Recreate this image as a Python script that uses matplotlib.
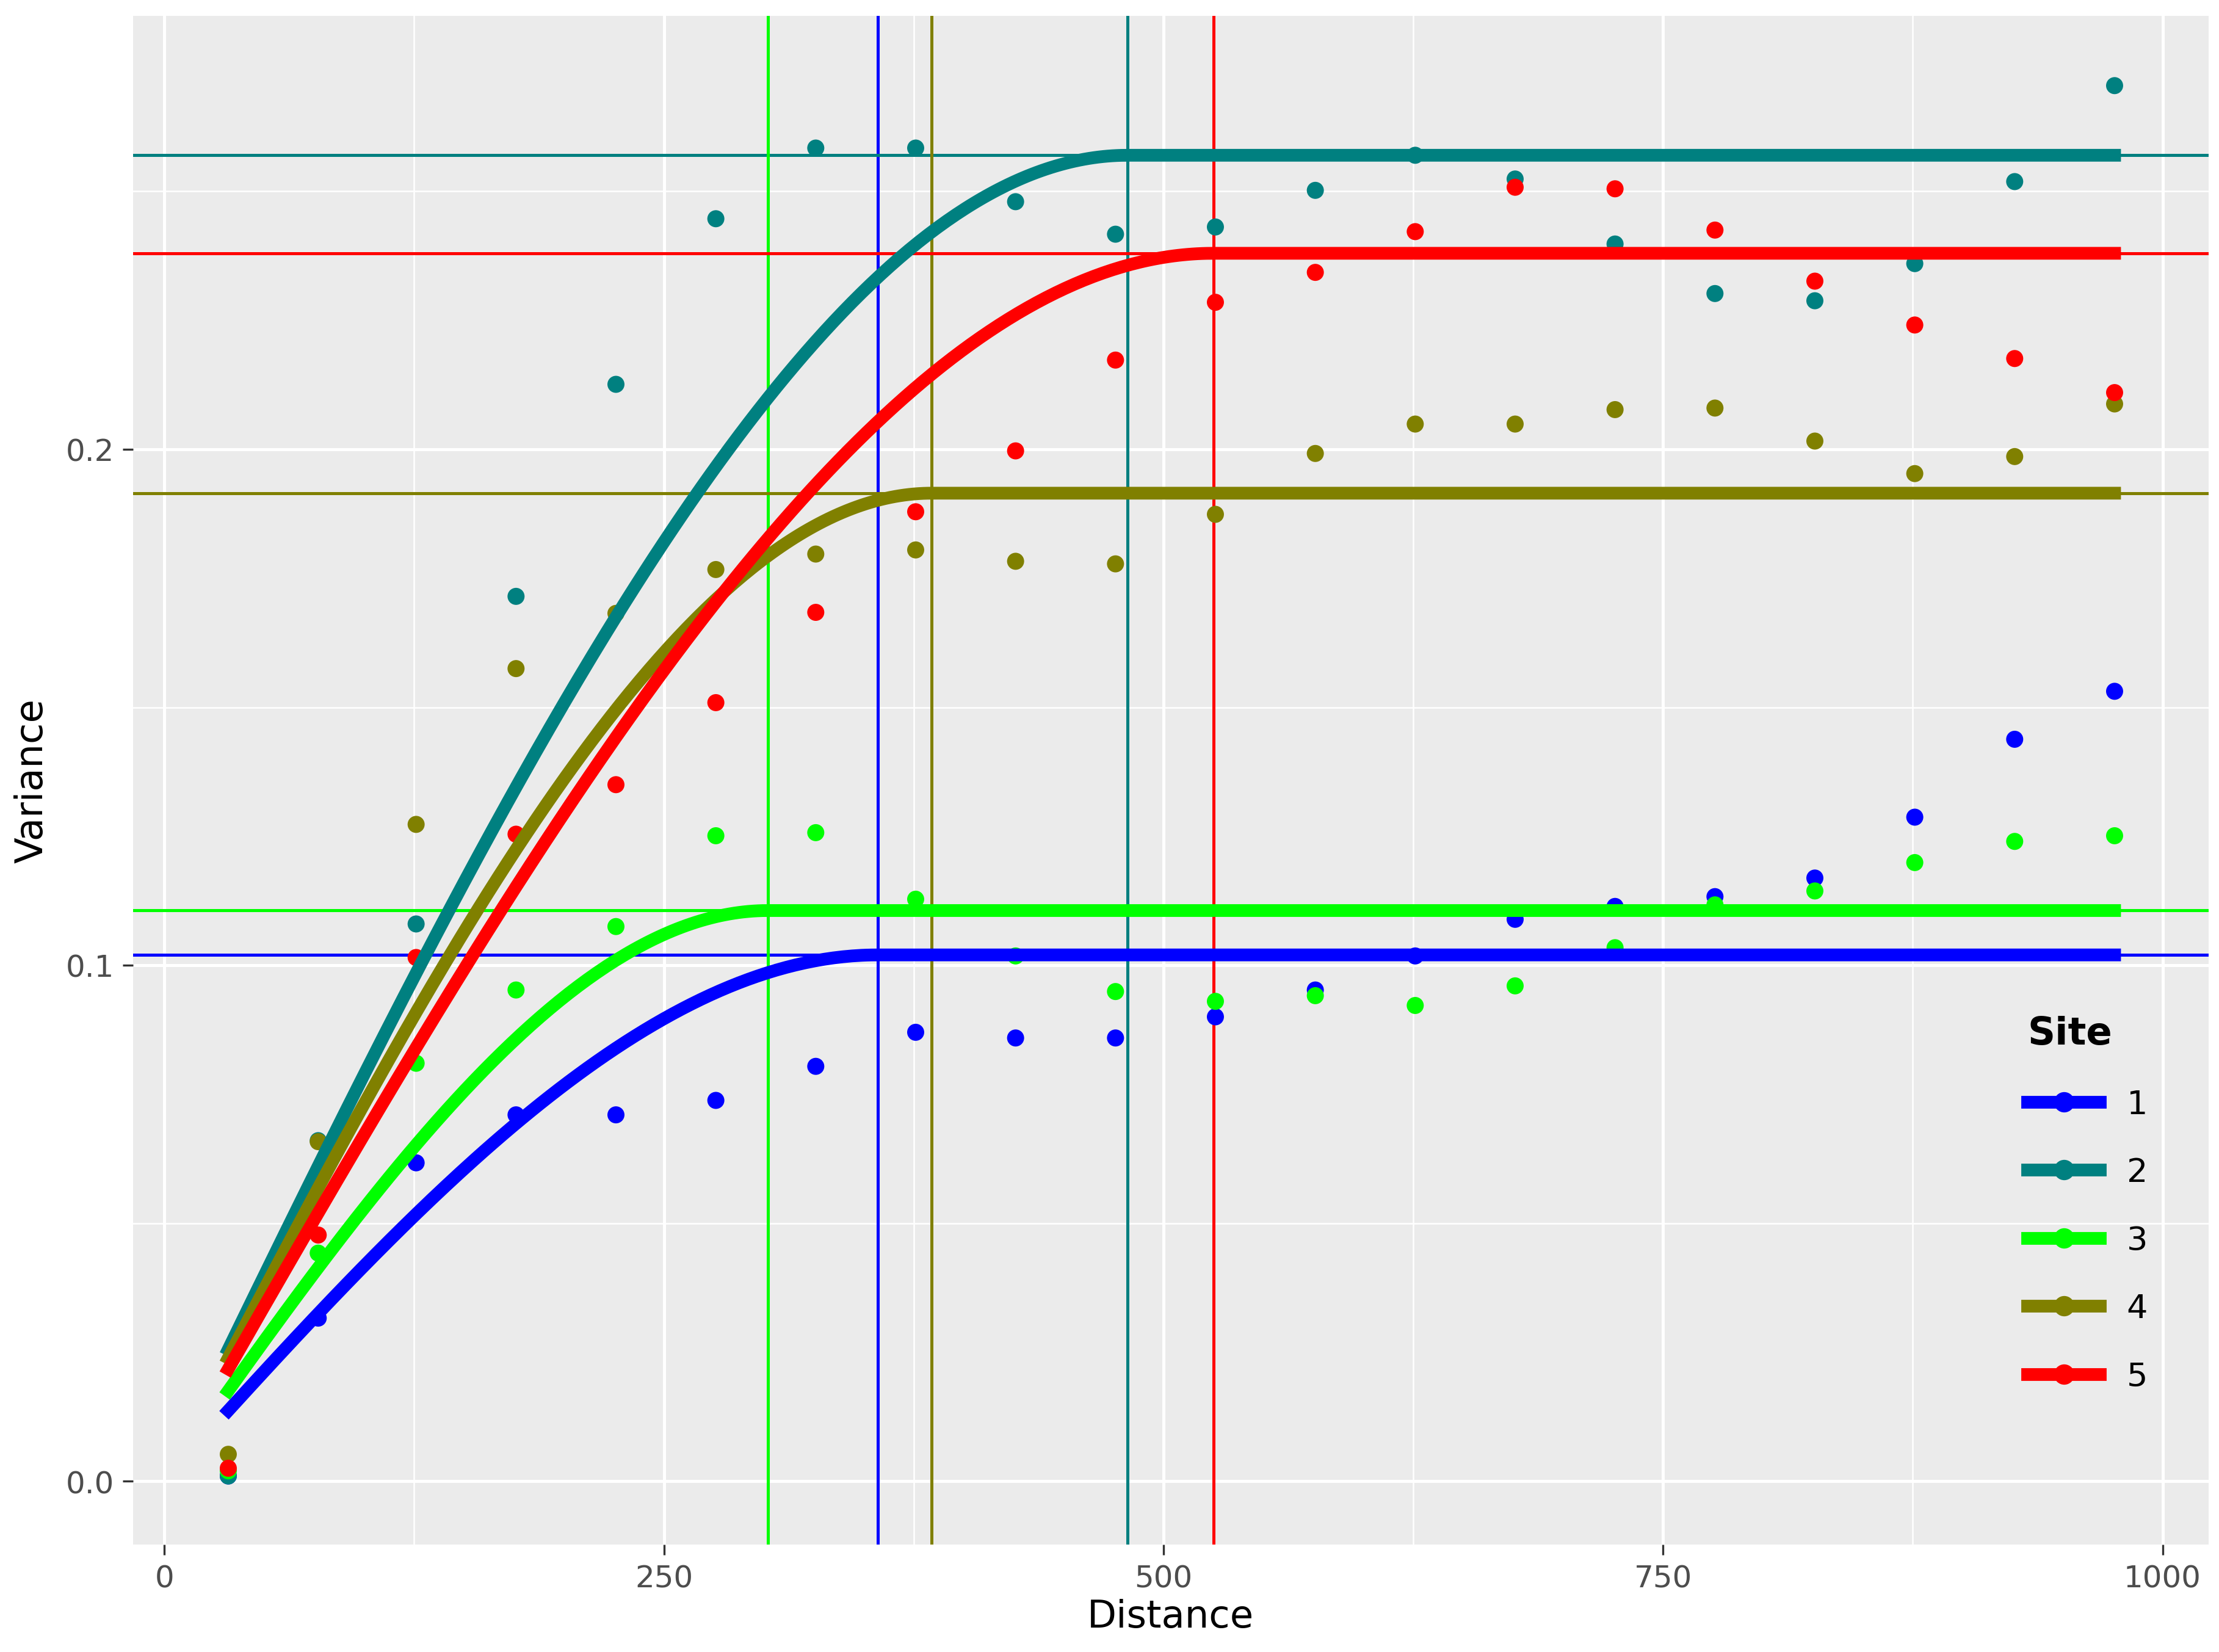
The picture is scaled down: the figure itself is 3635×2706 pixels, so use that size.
import numpy as np
import matplotlib.pyplot as plt
from matplotlib.lines import Line2D

# distances of the empirical variogram bins
dist = [32, 77, 126, 176, 226, 276, 326, 376, 426, 476, 526, 576, 626, 676, 726, 776, 826, 876, 926, 976]

site1 = [0.001, 0.0316, 0.0617, 0.071, 0.071, 0.0738, 0.0804, 0.087, 0.0859, 0.0859,
         0.09, 0.0952, 0.1018, 0.1089, 0.1114, 0.1133, 0.1169, 0.1287, 0.1438, 0.1531]
site2 = [0.001, 0.066, 0.108, 0.1715, 0.2126, 0.2447, 0.2584, 0.2584, 0.248, 0.2417,
         0.2431, 0.2502, 0.257, 0.2524, 0.2398, 0.2302, 0.2288, 0.236, 0.2519, 0.2705]
site3 = [0.002, 0.0442, 0.081, 0.0952, 0.1075, 0.1251, 0.1257, 0.1128, 0.1018, 0.0949,
         0.093, 0.0941, 0.0922, 0.096, 0.1034, 0.1117, 0.1144, 0.1199, 0.124, 0.1251]
site4 = [0.0052, 0.0658, 0.1273, 0.1575, 0.1682, 0.1767, 0.1797, 0.1805, 0.1783, 0.1778,
         0.1874, 0.1992, 0.2049, 0.2049, 0.2077, 0.208, 0.2016, 0.1953, 0.1986, 0.2088]
site5 = [0.0025, 0.0477, 0.1015, 0.1254, 0.135, 0.1509, 0.1684, 0.1879, 0.1997, 0.2173,
         0.2285, 0.2343, 0.2422, 0.2508, 0.2505, 0.2425, 0.2326, 0.2241, 0.2176, 0.211]

# fitted spherical models: sill and range per site
sills = [0.102, 0.257, 0.1106, 0.1915, 0.238]
ranges = [357, 482, 302, 384, 525]
colors = ['#0000FF', '#008080', '#00FF00', '#808000', '#FF0000']
labels = ['1', '2', '3', '4', '5']
points = [site1, site2, site3, site4, site5]


def spherical(h, sill, rng):
    r = np.clip(h / rng, 0, 1)
    return sill * (1.5 * r - 0.5 * r ** 3)


fig, ax = plt.subplots(figsize=(12.12, 9.023), dpi=300)
fig.subplots_adjust(left=0.06, right=0.995, top=0.99, bottom=0.065)
ax.set_facecolor('#EBEBEB')
for s in ax.spines.values():
    s.set_visible(False)

ax.set_xticks([0, 250, 500, 750, 1000])
ax.set_xticks([125, 375, 625, 875], minor=True)
ax.set_yticks([0.0, 0.1, 0.2])
ax.set_yticks([0.05, 0.15, 0.25], minor=True)
ax.grid(which='major', color='white', lw=1.2)
ax.grid(which='minor', color='white', lw=0.6)
ax.set_axisbelow(True)
ax.tick_params(which='major', colors='#4D4D4D', labelsize=12, length=4, color='#333333')
ax.tick_params(which='minor', length=0)

h = np.linspace(dist[0], dist[-1], 400)
for pts, sill, rng, c in zip(points, sills, ranges, colors):
    ax.scatter(dist, pts, color=c, s=45, zorder=3, edgecolors='none')
for pts, sill, rng, c in zip(points, sills, ranges, colors):
    ax.plot(h, spherical(h, sill, rng), color=c, lw=5, zorder=4)
    ax.axhline(sill, color=c, lw=1.2, zorder=2)
    ax.axvline(rng, color=c, lw=1.2, zorder=2)

ax.set_xlim(-15.6, 1023)
ax.set_ylim(-0.0123, 0.284)
ax.set_xlabel('Distance', fontsize=15, labelpad=2)
ax.set_ylabel('Variance', fontsize=15, labelpad=6)

handles = [Line2D([0], [0], color=c, lw=5, marker='o', markersize=7) for c in colors]
leg = ax.legend(handles, labels, title='Site', loc='lower right', bbox_to_anchor=(0.985, 0.08),
                frameon=False, fontsize=13, handlelength=2.2, labelspacing=1.1,
                title_fontproperties={'weight': 'bold', 'size': 15})
leg._legend_box.align = 'left'

fig.savefig('out.png', dpi=300)
